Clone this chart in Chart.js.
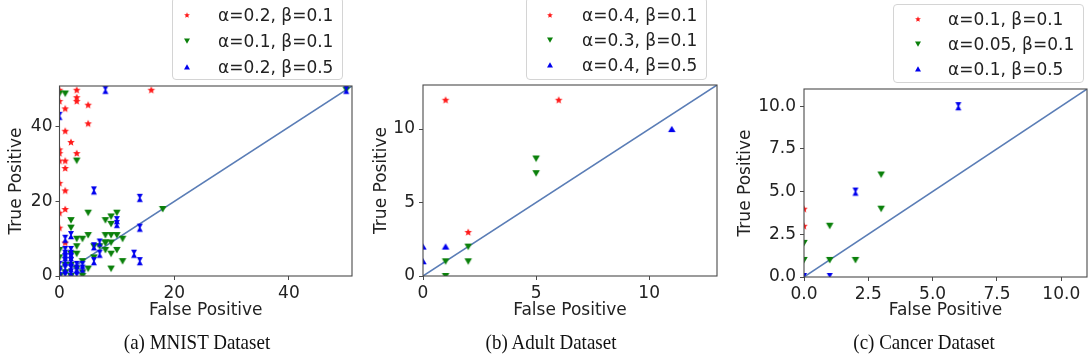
<!DOCTYPE html>
<html><head><meta charset="utf-8">
<script src="https://cdn.jsdelivr.net/npm/chart.js@4.4.1/dist/chart.umd.min.js"></script>
<style>
html,body{margin:0;padding:0;background:#fff;}
body{width:1092px;height:364px;position:relative;overflow:hidden;font-family:'DejaVu Sans',sans-serif;}
canvas.chart{position:absolute;top:0;}
.legend{position:absolute;border:1px solid #d4d4d4;border-radius:4px;background:rgba(255,255,255,0.85);box-sizing:border-box;}
.ltext{position:absolute;font-family:'DejaVu Sans';font-size:17px;line-height:20px;color:#222;white-space:nowrap;}
.lmark{position:absolute;}
.cap{position:absolute;font-family:'Liberation Serif',serif;font-size:19px;line-height:20px;color:#111;white-space:nowrap;transform:translateX(-50%) scaleY(1.08);}
</style>
</head><body>
<script>
// ---------------- data ----------------
const mnistRedX   = [0,0,0,0,0,0,0,0,1,1,1,1,1,1,1,2,3,3,3,3,5,5,16];
const mnistRedY   = [50,47,34,33,31,25,17,13,45,39,31,29,23,18,9,36,50,48,47,33,46,41,50];
const mnistGreenX = [0,1,3,5,2,2,8,9,10,9,5,3,4,8,9,10,11,8,9,8,10,9,11,9,5,18,3,3,2,4,0,0,0,1,1,2,3,4,2,0,6,7,8,6,4,50];
const mnistGreenY = [49,49,31,17,15,13,15,16,17,14,11,10,10,11,11,11,10,9,9,7,7,6,4,2,2,18,8,6,6,4,7,5,2,3,1,3,2,1,0,0,5,8,9,8,0,50];
const mnistBlueX  = [50,8,0,6,14,10,10,14,2,1,7,6,7,6,13,14,1,2,1,2,1,2,1,2,3,4,3,4,1,2,0,0,3,1,0,2];
const mnistBlueY  = [50,50,43,23,21,15,14,13,11,10,9,8,6,4,6,4,7,7,6,6,5,5,4,4,3,3,2,2,2,1,1,3,0,0,0,2];

const adultRedX   = [1,6,2];
const adultRedY   = [12,12,3];
const adultGreenX = [5,5,2,2,1,1];
const adultGreenY = [8,7,2,1,1,0];
const adultBlueX  = [0,0,1,11];
const adultBlueY  = [2,1,2,10];

const cancerRedX   = [0,0];
const cancerRedY   = [4,3];
const cancerGreenX = [0,0,1,1,2,3,3];
const cancerGreenY = [2,1,3,1,1,6,4];
const cancerBlueX  = [6,2,1,0];
const cancerBlueY  = [10,5,0,0];

const mnistDiag  = [0,51];
const adultDiag  = [0,13];
const cancerDiag = [0,11];

const mnistTicks  = [0,20,40];
const adultTicks  = [0,5,10];
const cancerTicks = [0,2.5,5,7.5,10];

const mnistLabels  = ['α=0.2, β=0.1','α=0.1, β=0.1','α=0.2, β=0.5'];
const adultLabels  = ['α=0.4, β=0.1','α=0.3, β=0.1','α=0.4, β=0.5'];
const cancerLabels = ['α=0.1, β=0.1','α=0.05, β=0.1','α=0.1, β=0.5'];

const captions = ['(a) MNIST Dataset','(b) Adult Dataset','(c) Cancer Dataset'];
const xTitle = 'False Positive';
const yTitle = 'True Positive';

// ---------------- styles ----------------
const RED='#ff1a1a', GREEN='#0a800a', BLUE='#0000ee', LINE='#5a7db6', AXIS='#4a4a4a', TXT='#222';

function marker(kind, size){
  const c=document.createElement('canvas'); c.width=14; c.height=14;
  const g=c.getContext('2d'); const h=size/2; g.translate(7,7); g.beginPath();
  if(kind==='star'){ g.fillStyle=RED;
    for(let i=0;i<10;i++){const r=i%2?h*0.45:h; const a=-Math.PI/2+i*Math.PI/5; g.lineTo(r*Math.cos(a), r*Math.sin(a)+h*0.1);} }
  else if(kind==='down'){ g.fillStyle=GREEN; g.moveTo(-h,-h*0.8); g.lineTo(h,-h*0.8); g.lineTo(0,h*0.9); }
  else if(kind==='up'){ g.fillStyle=BLUE; g.moveTo(0,-h*0.9); g.lineTo(h,h*0.8); g.lineTo(-h,h*0.8); }
  else if(kind==='hour'){ g.fillStyle=BLUE; g.moveTo(-h*0.8,-h*1.1); g.lineTo(h*0.8,-h*1.1); g.lineTo(h*0.2,0); g.lineTo(h*0.8,h*1.1); g.lineTo(-h*0.8,h*1.1); g.lineTo(-h*0.2,0); }
  g.closePath(); g.fill(); return c;
}
const mStar=marker('star',8), mDown=marker('down',7.5), mUp=marker('up',7.5), mHour=marker('hour',7.5);

const framePlugin={id:'frame',afterDatasetsDraw(chart){
  const {ctx,chartArea:a}=chart; ctx.save(); ctx.strokeStyle=AXIS; ctx.lineWidth=1.1;
  ctx.strokeRect(a.left,a.top,a.right-a.left,a.bottom-a.top); ctx.restore();
}};

const pts=(xs,ys)=>xs.map((x,i)=>({x:x,y:ys[i]}));
const FONT={family:'DejaVu Sans',size:17};

function makeChart(p){
  const cv=document.createElement('canvas'); cv.className='chart';
  cv.width=p.w; cv.height=364; cv.style.left=p.x+'px'; cv.style.width=p.w+'px'; cv.style.height='364px';
  document.body.appendChild(cv);
  const tickCb = p.fmt || (v=>String(v));
  new Chart(cv,{type:'scatter',
    data:{datasets:[
      {label:'diag',type:'line',data:pts(p.diag,p.diag),borderColor:LINE,borderWidth:1.5,pointRadius:0,showLine:true,order:4,clip:0},
      {label:p.labels[0],data:pts(p.rx,p.ry),pointStyle:mStar,pointRadius:3,order:3,clip:0},
      {label:p.labels[1],data:pts(p.gx,p.gy),pointStyle:mDown,pointRadius:3,order:2,clip:0},
      {label:p.labels[2],data:pts(p.bx,p.by),pointStyle:p.blue,pointRadius:3,order:1,clip:0}
    ]},
    options:{responsive:false,animation:false,devicePixelRatio:1,events:[],
      layout:{padding:{left:0,top:p.top,right:p.padR,bottom:0}},
      plugins:{legend:{display:false},tooltip:{enabled:false}},
      scales:{
        x:{type:'linear',min:0,max:p.max,
          afterBuildTicks:s=>{s.ticks=p.ticks.map(v=>({value:v}));},
          afterFit:s=>{s.height=364-p.bottom;},
          grid:{drawOnChartArea:false,drawTicks:true,tickLength:4,color:AXIS},
          border:{display:false},
          ticks:{padding:3,color:TXT,font:FONT,maxRotation:0,autoSkip:false,callback:tickCb},
          title:{display:true,text:xTitle,color:TXT,font:FONT,padding:{top:0,bottom:43.5}}},
        y:{type:'linear',min:0,max:p.max,
          afterBuildTicks:s=>{s.ticks=p.ticks.map(v=>({value:v}));},
          afterFit:s=>{s.width=p.yw;},
          grid:{drawOnChartArea:false,drawTicks:true,tickLength:4,color:AXIS},
          border:{display:false},
          ticks:{padding:p.ytp,color:TXT,font:FONT,autoSkip:false,callback:tickCb},
          title:{display:true,text:yTitle,color:TXT,font:FONT,padding:{top:p.ytt,bottom:0}}}
      }},
    plugins:[framePlugin]});
}

makeChart({x:0,w:365,top:86,bottom:276,padR:13,yw:59.5,max:51,ticks:mnistTicks,diag:mnistDiag,
  rx:mnistRedX,ry:mnistRedY,gx:mnistGreenX,gy:mnistGreenY,bx:mnistBlueX,by:mnistBlueY,blue:mHour,labels:mnistLabels,ytp:3,ytt:6.5});
makeChart({x:365,w:365,top:85,bottom:276,padR:13,yw:58,max:13,ticks:adultTicks,diag:adultDiag,
  rx:adultRedX,ry:adultRedY,gx:adultGreenX,gy:adultGreenY,bx:adultBlueX,by:adultBlueY,blue:mUp,labels:adultLabels,ytp:4,ytt:6.5});
makeChart({x:730,w:362,top:89,bottom:277,padR:1,yw:74,max:11,ticks:cancerTicks,diag:cancerDiag,fmt:v=>v.toFixed(1),
  rx:cancerRedX,ry:cancerRedY,gx:cancerGreenX,gy:cancerGreenY,bx:cancerBlueX,by:cancerBlueY,blue:mHour,labels:cancerLabels,ytp:4,ytt:5});

// ---------------- legends ----------------
function legend(box, mx, tx, rows, labels){
  const d=document.createElement('div'); d.className='legend';
  d.style.left=box[0]+'px'; d.style.top=box[1]+'px'; d.style.width=(box[2]-box[0])+'px'; d.style.height=(box[3]-box[1])+'px';
  document.body.appendChild(d);
  const ms=[marker('star',6),marker('down',6),marker('up',6)];
  labels.forEach((lab,i)=>{
    const m=ms[i]; m.className='lmark'; m.style.left=(mx-7)+'px'; m.style.top=(rows[i]-7)+'px'; document.body.appendChild(m);
    const t=document.createElement('div'); t.className='ltext'; t.textContent=lab;
    t.style.left=tx+'px'; t.style.top=(rows[i]-10)+'px'; document.body.appendChild(t);
  });
}
legend([172,-3,343,80],187,218,[15,41,66.5],mnistLabels);
legend([526,-3,707,80],550,582,[15,40,65],adultLabels);
legend([893,4,1084,83],918,948,[19,44,68.5],cancerLabels);

// ---------------- captions ----------------
[197,551,924].forEach((cx,i)=>{
  const c=document.createElement('div'); c.className='cap'; c.textContent=captions[i];
  c.style.left=cx+'px'; c.style.top='333px'; document.body.appendChild(c);
});
</script>
</body></html>
